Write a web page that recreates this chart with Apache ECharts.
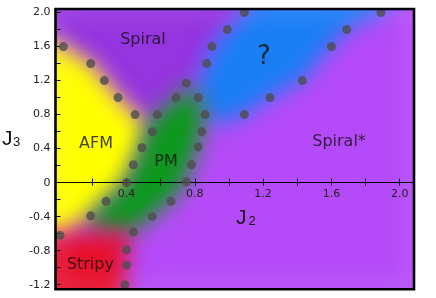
<!DOCTYPE html>
<html><head><meta charset="utf-8">
<script src="https://cdn.jsdelivr.net/npm/echarts@6/dist/echarts.min.js"></script>
<style>html,body{margin:0;padding:0;background:#fff}#c{width:436px;height:298px}</style>
</head><body><div id="c"></div>
<script>
// ---- phase-boundary points (J2, J3) ----
const bAfmSpiral = [[0.03,1.6],[0.19,1.4],[0.27,1.2],[0.35,1.0],[0.45,0.8]];
const bAfmPm = [[0.55,0.6],[0.49,0.41],[0.44,0.21],[0.40,0.0],[0.28,-0.22],[0.19,-0.39]];
const bAfmStripy = [[0.01,-0.62]];
const bPmSpiral = [[0.58,0.8],[0.69,1.0],[0.75,1.17],[0.82,1.0],[0.86,0.8],[0.84,0.6],[0.82,0.42],[0.78,0.21],[0.75,0.01],[0.66,-0.22],[0.55,-0.4]];
const bStripy = [[0.44,-0.58],[0.40,-0.79],[0.40,-0.97],[0.39,-1.2]];
const bQLeft = [[0.87,1.4],[0.90,1.6],[0.99,1.8],[1.09,2.0]];
const bQRight = [[1.09,0.8],[1.24,1.0],[1.43,1.2],[1.60,1.6],[1.69,1.8],[1.89,2.0]];

// ---- phase regions (polygons in J2, J3) ----
const regSpiral = [[-0.3,2.4],[1.2,2.4],[1.09,2.0],[0.99,1.8],[0.90,1.6],[0.87,1.4],[0.82,1.2],[0.75,1.17],[0.69,1.0],[0.58,0.8],[0.52,0.68],[0.45,0.8],[0.35,1.0],[0.27,1.2],[0.19,1.4],[0.03,1.6],[-0.3,1.85]];
const regAfm = [[-0.3,1.85],[0.03,1.6],[0.19,1.4],[0.27,1.2],[0.35,1.0],[0.45,0.8],[0.52,0.68],[0.49,0.41],[0.44,0.21],[0.40,0.0],[0.28,-0.22],[0.19,-0.39],[0.01,-0.62],[-0.3,-0.62]];
const regPm = [[0.52,0.68],[0.58,0.8],[0.69,1.0],[0.75,1.17],[0.82,1.0],[0.86,0.8],[0.84,0.6],[0.82,0.42],[0.78,0.21],[0.75,0.01],[0.66,-0.22],[0.55,-0.4],[0.44,-0.58],[0.2,-0.58],[0.19,-0.39],[0.28,-0.22],[0.40,0.0],[0.44,0.21],[0.49,0.41]];
const regStripy = [[-0.3,-0.62],[0.01,-0.62],[0.2,-0.58],[0.44,-0.58],[0.40,-0.79],[0.40,-0.97],[0.39,-1.2],[0.39,-1.6],[-0.3,-1.6]];
const regQ = [[0.82,1.2],[0.87,1.4],[0.90,1.6],[0.99,1.8],[1.09,2.0],[1.2,2.4],[2.1,2.4],[1.89,2.0],[1.69,1.8],[1.60,1.6],[1.43,1.2],[1.24,1.0],[1.09,0.8],[0.95,0.68],[0.86,0.8],[0.82,1.0]];

// ---- phase labels ----
const labelText = ['Spiral','?','AFM','PM','Spiral*','Stripy'];
const labelX = [0.496, 1.205, 0.221, 0.631, 1.645, 0.188];
const labelY = [1.68, 1.476, 0.457, 0.245, 0.48, -0.963];

// ---- axis ticks ----
const xTicks = [0.2,0.4,0.6,0.8,1.0,1.2,1.4,1.6,1.8,2.0];
const xLabels = [0.4,0.8,1.2,1.6,2.0];
const yTicks = [-1.2,-1.0,-0.8,-0.6,-0.4,-0.2,0,0.2,0.4,0.6,0.8,1.0,1.2,1.4,1.6,1.8,2.0];
const yLabels = [-1.2,-0.8,-0.4,0,0.4,0.8,1.2,1.6,2.0];

const X_MIN = -0.0164, X_MAX = 2.084, Y_MIN = -1.254, Y_MAX = 2.042;

const regions = [
  {pts: regSpiral, color: '#9535e0'},
  {pts: regQ, color: '#1a7ff5'},
  {pts: regAfm, color: '#ffff00'},
  {pts: regPm, color: '#0b9a1b'},
  {pts: regStripy, color: '#e8112c'}
];
const dots = [].concat(bAfmSpiral, bAfmPm, bAfmStripy, bPmSpiral, bStripy, bQLeft, bQRight);

const chart = echarts.init(document.getElementById('c'), null, {renderer: 'canvas'});
const OFF = 4000;
const FONT = 'DejaVu Sans';
const tickFmt = v => (Math.abs(v) < 1e-9 ? '0' : v.toFixed(1));

chart.setOption({
  animation: false,
  grid: {left: 55.5, right: 22, top: 9, bottom: 8.7, show: true, backgroundColor: '#b54bf8', borderWidth: 0,
         containLabel: false, outerBoundsMode: 'none'},
  xAxis: [
    {type: 'value', min: X_MIN, max: X_MAX, z: 5, position: 'bottom', offset: 0,
     axisLine: {onZero: false, lineStyle: {color: '#000', width: 1.2}},
     axisTick: {show: true, length: 3, customValues: xTicks, lineStyle: {color: '#000'}},
     axisLabel: {customValues: xLabels, formatter: tickFmt, fontSize: 11, fontFamily: FONT, color: '#222', margin: 6},
     splitLine: {show: false}},
    {type: 'value', min: X_MIN, max: X_MAX, z: 5, position: 'top', offset: 0,
     axisLine: {show: false, onZero: false},
     axisTick: {show: true, length: 4, customValues: xTicks, lineStyle: {color: '#000'}},
     axisLabel: {show: false}, splitLine: {show: false}}
  ],
  yAxis: [{type: 'value', min: Y_MIN, max: Y_MAX, z: 5,
     axisLine: {show: false, onZero: false},
     axisTick: {show: true, inside: true, length: 5, customValues: yTicks, lineStyle: {color: '#000'}},
     axisLabel: {customValues: yLabels, formatter: tickFmt, fontSize: 11, fontFamily: FONT, color: '#222', margin: 5},
     splitLine: {show: false}}],
  series: [
    {type: 'custom', clip: true, silent: true, z: 2,
     data: regions.map((r, i) => [i]),
     renderItem: function (params, api) {
       const r = regions[params.dataIndex];
       const pts = r.pts.map(p => { const c = api.coord(p); return [c[0] - OFF, c[1]]; });
       return {type: 'polygon', shape: {points: pts},
               style: {fill: r.color, shadowColor: r.color, shadowBlur: 22, shadowOffsetX: OFF}};
     }},
    {type: 'custom', clip: true, silent: true, z: 3,
     data: [[0]],
     renderItem: function (params, api) {
       const cs = params.coordSys;
       return {type: 'rect', shape: {x: cs.x - OFF, y: cs.y, width: cs.width, height: cs.height},
               style: {fill: 'none', stroke: 'rgba(238,210,255,0.6)', lineWidth: 6,
                       shadowColor: 'rgba(238,210,255,0.6)', shadowBlur: 22, shadowOffsetX: OFF}};
     }},
    {type: 'scatter', z: 6, silent: true, symbol: 'circle', symbolSize: 9,
     itemStyle: {color: '#4d4d4d'}, data: dots},
    {type: 'scatter', z: 7, silent: true, symbolSize: 0,
     data: labelText.map((t, i) => ({value: [labelX[i], labelY[i]],
       label: {show: true, position: 'inside', formatter: t, fontFamily: FONT,
               fontSize: t === '?' ? 26 : 16, color: '#111'}}))},
    {type: 'custom', clip: false, silent: true, z: 8,
     data: [[0]],
     renderItem: function (params, api) {
       const cs = params.coordSys;
       return {type: 'rect', shape: {x: cs.x, y: cs.y, width: cs.width, height: cs.height},
               style: {fill: 'none', stroke: '#000', lineWidth: 2.6}};
     }}
  ],
  graphic: [
    {type: 'text', left: 2, top: 129, style: {text: 'J', font: '21px "Liberation Sans"', fill: '#111'}},
    {type: 'text', left: 13, top: 135.5, style: {text: '3', font: '13px "Liberation Sans"', fill: '#111'}},
    {type: 'text', left: 236, top: 208, style: {text: 'J', font: '21px "Liberation Sans"', fill: '#111'}},
    {type: 'text', left: 248.5, top: 214.5, style: {text: '2', font: '13px "Liberation Sans"', fill: '#111'}}
  ]
});

// move the J2 axis onto J3 = 0 using the library's own y scale
const zeroY = chart.convertToPixel({yAxisIndex: 0}, 0);
const bottomY = chart.convertToPixel({yAxisIndex: 0}, Y_MIN);
const topY = chart.convertToPixel({yAxisIndex: 0}, Y_MAX);
chart.setOption({xAxis: [{offset: zeroY - bottomY}, {offset: topY - zeroY}]});
</script>
</body></html>
